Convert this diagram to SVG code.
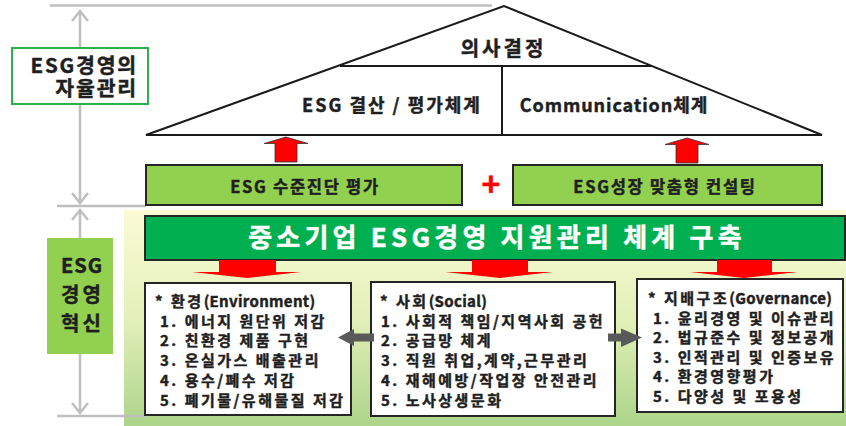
<svg xmlns="http://www.w3.org/2000/svg" width="846" height="426" viewBox="0 0 846 426">
<defs>
<linearGradient id="bg" x1="0" y1="0" x2="0" y2="1">
<stop offset="0" stop-color="#fbfbd6"/>
<stop offset="0.5" stop-color="#e3f0b8"/>
<stop offset="1" stop-color="#acd48a"/>
</linearGradient>
<style>
text{font-family:"Noto Sans CJK KR","Noto Sans",sans-serif;font-weight:700;fill:#1f1f1f;stroke:#1f1f1f;stroke-width:0.45px}
.guide{stroke:#bfbfbf;stroke-width:2.5;fill:none}
.roof{stroke:#1a1a1a;stroke-width:2;fill:none}
.lg{fill:#92d050;stroke:#262626;stroke-width:2}
.box{fill:#ffffff;stroke:#262626;stroke-width:2}
.item{font-size:15px;letter-spacing:2.5px}
.lat{letter-spacing:0.3px}
.red{fill:#ff0000}
.gray{fill:#595959}
</style>
</defs>
<rect width="846" height="426" fill="#ffffff"/>
<rect x="124" y="210" width="722" height="216" fill="url(#bg)"/>

<g id="guides">
<line class="guide" x1="50" y1="5.5" x2="492" y2="5.5"/>
<line class="guide" x1="57" y1="206" x2="146" y2="206"/>
<line class="guide" x1="57" y1="416" x2="146" y2="416"/>
<line class="guide" x1="80" y1="11" x2="80" y2="203"/>
<polyline class="guide" points="72,21 80,11 88,21"/>
<polyline class="guide" points="72,193 80,203 88,193"/>
<line class="guide" x1="80" y1="210" x2="80" y2="413"/>
<polyline class="guide" points="72,220 80,210 88,220"/>
<polyline class="guide" points="72,403 80,413 88,403"/>
</g>

<g id="label-autonomy">
<rect x="12" y="48" width="136" height="56" fill="#ffffff" stroke="#2cb04e" stroke-width="2"/>
<text text-anchor="end" font-size="20.5" letter-spacing="1.8"><tspan x="138" y="72.5">ESG경영의</tspan><tspan x="138" y="96">자율관리</tspan></text>
</g>

<g id="label-innovation">
<rect x="47" y="238" width="66" height="116" fill="#92d050"/>
<text x="82" y="273" text-anchor="middle" font-size="20" letter-spacing="1">ESG</text>
<text x="82.5" y="302" text-anchor="middle" font-size="20" letter-spacing="3">경영</text>
<text x="82.5" y="331" text-anchor="middle" font-size="20" letter-spacing="3">혁신</text>
</g>

<g id="roof">
<polygon class="roof" points="146,135 504,6 822,135"/>
<line class="roof" x1="340" y1="66" x2="652" y2="66"/>
<line class="roof" x1="502" y1="66" x2="502" y2="135"/>
<text x="503.5" y="56" text-anchor="middle" font-size="20" letter-spacing="3">의사결정</text>
<text x="392" y="112" text-anchor="middle" font-size="18" letter-spacing="2">ESG 결산 / 평가체계</text>
<text x="614" y="112" text-anchor="middle" font-size="18" letter-spacing="0.9">Communication체계</text>
</g>

<g id="node-diagnosis">
<rect class="lg" x="146" y="165" width="316" height="40"/>
<text x="305" y="192.5" text-anchor="middle" font-size="16.5" letter-spacing="1.7">ESG 수준진단 평가</text>
</g>

<g id="plus">
<text x="491" y="196" text-anchor="middle" font-size="32" style="fill:#ff0000;stroke:#ff0000">+</text>
</g>

<g id="node-consulting">
<rect class="lg" x="513" y="165" width="309" height="40"/>
<text x="665" y="192.5" text-anchor="middle" font-size="16.5" letter-spacing="1.7">ESG성장 맞춤형 컨설팅</text>
</g>

<g id="node-bar">
<rect x="145" y="216" width="700" height="44" fill="#00b050" stroke="#262626" stroke-width="2"/>
<text x="497" y="246.5" text-anchor="middle" font-size="26" letter-spacing="4.2" style="fill:#ffffff;stroke:#ffffff">중소기업 ESG경영 지원관리 체계 구축</text>
</g>

<g id="node-environment">
<rect class="box" x="145" y="283" width="206" height="132"/>
<text class="item" x="155" y="306.5">* 환경<tspan class="lat">(Environment)</tspan></text>
<text class="item" x="160" y="326.5">1. 에너지 원단위 저감</text>
<text class="item" x="160" y="346">2. 친환경 제품 구현</text>
<text class="item" x="160" y="366">3. 온실가스 배출관리</text>
<text class="item" x="160" y="386">4. 용수/폐수 저감</text>
<text class="item" x="160" y="405.5">5. 폐기물/유해물질 저감</text>
</g>

<g id="node-social">
<rect class="box" x="371" y="282" width="244" height="134"/>
<text class="item" x="380" y="306.5">* 사회<tspan class="lat">(Social)</tspan></text>
<text class="item" x="381" y="326.5">1. 사회적 책임/지역사회 공헌</text>
<text class="item" x="381" y="346">2. 공급망 체계</text>
<text class="item" x="381" y="366">3. 직원 취업,계약,근무관리</text>
<text class="item" x="381" y="386">4. 재해예방/작업장 안전관리</text>
<text class="item" x="381" y="405.5">5. 노사상생문화</text>
</g>

<g id="node-governance">
<rect class="box" x="637" y="279" width="206" height="133"/>
<text class="item" x="648" y="304">* 지배구조<tspan class="lat">(Governance)</tspan></text>
<text class="item" x="653" y="323.5">1. 윤리경영 및 이슈관리</text>
<text class="item" x="653" y="343">2. 법규준수 및 정보공개</text>
<text class="item" x="653" y="362.5">3. 인적관리 및 인증보유</text>
<text class="item" x="653" y="382">4. 환경영향평가</text>
<text class="item" x="653" y="401.5">5. 다양성 및 포용성</text>
</g>

<g id="connectors">
<polygon class="red" stroke="#333" stroke-width="0.8" points="286,137 308,143.5 297,143.5 297,162 275,162 275,143.5 264,143.5"/>
<polygon class="red" stroke="#333" stroke-width="0.8" points="687,138 709,144.5 698,144.5 698,163 676,163 676,144.5 665,144.5"/>
<polygon class="red" points="219,260 276,260 276,272 301,272 247,278 192,272 219,272"/>
<polygon class="red" points="472,260 528,260 528,272 553,272 500,278 445,272 472,272"/>
<polygon class="red" points="717,260 772,260 772,272 798,272 744,278 690,272 717,272"/>
<polygon class="gray" points="338,337.5 354,329 354,333.5 374,333.5 374,341.5 354,341.5 354,346"/>
<polygon class="gray" points="642,337.5 621,328.5 621,333.5 608,333.5 608,341.5 621,341.5 621,347"/>
</g>
</svg>
